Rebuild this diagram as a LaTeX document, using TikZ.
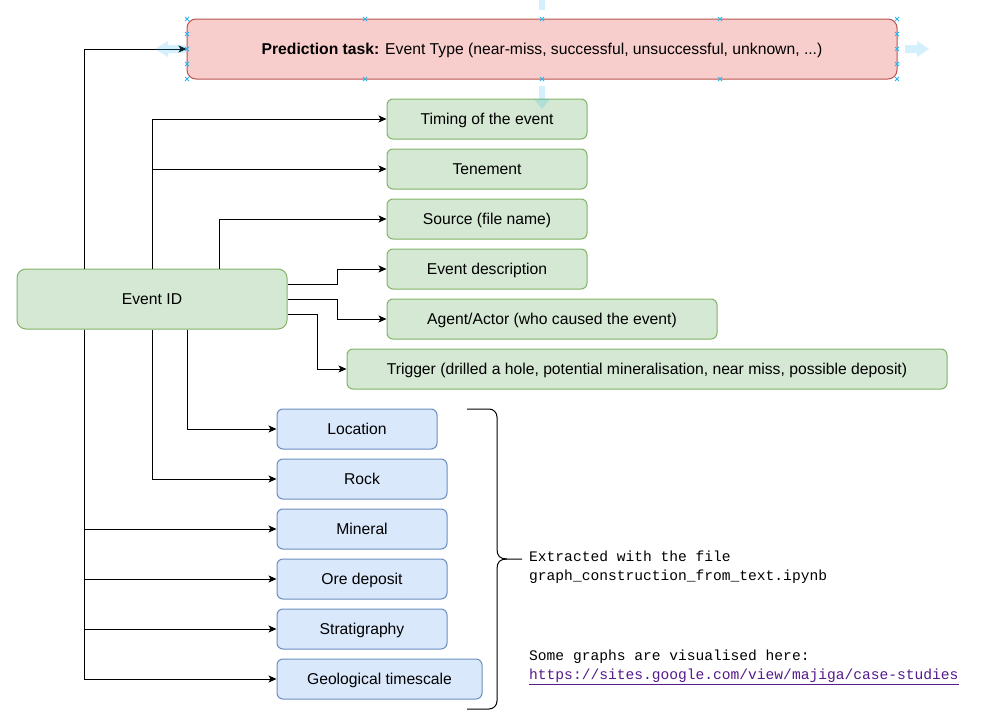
\documentclass[tikz,border=0pt]{standalone}
\usepackage{fontspec}
\setmainfont{Liberation Sans}
\newfontfamily\monofont{Liberation Mono}
\usetikzlibrary{arrows.meta}
\definecolor{gfill}{HTML}{D5E8D4}
\definecolor{gline}{HTML}{82B366}
\definecolor{bfill}{HTML}{DAE8FC}
\definecolor{bline}{HTML}{6C8EBF}
\definecolor{pfill}{HTML}{F8CECC}
\definecolor{pline}{HTML}{B85450}
\definecolor{handle}{HTML}{29B6F2}
\definecolor{linkc}{HTML}{551A8B}
\begin{document}
\begin{tikzpicture}[x=1pt,y=-1pt,
  base/.style={draw, line width=1pt, inner sep=0pt, text height=13.5pt, text depth=2.5pt, font=\fontsize{15.7}{18}\selectfont, text=black},
  gbox/.style={base, fill=gfill, draw=gline, rounded corners=6pt, minimum height=40pt},
  bbox/.style={base, fill=bfill, draw=bline, rounded corners=6pt, minimum height=40pt},
  pbox/.style={base, fill=pfill, draw=pline, rounded corners=9pt, minimum height=60pt},
  conn/.style={line width=1pt, -{Stealth[length=8pt,width=7pt,inset=2pt]}},
  mono/.style={anchor=west, align=left, inner sep=0pt, font=\monofont\fontsize{14.6}{19}\selectfont},
  ghost/.style={fill=handle, fill opacity=0.2, draw=none},
  hmark/.style={draw=handle, line width=0.9pt}]
\useasboundingbox (0,0) rectangle (983,720);
\fill[white] (0,0) rectangle (983,720);

% nodes
\node[pbox, minimum width=710pt] (pred) at (542,49) {\textbf{Prediction task:} Event Type (near-miss, successful, unsuccessful, unknown, ...)};
\node[gbox, rounded corners=9pt, minimum width=270pt, minimum height=60pt] (eid) at (152,299) {Event ID};
\node[gbox, minimum width=200pt] (timing) at (487,119) {Timing of the event};
\node[gbox, minimum width=200pt] (ten) at (487,169) {Tenement};
\node[gbox, minimum width=200pt] (src) at (487,219) {Source (file name)};
\node[gbox, minimum width=200pt] (edesc) at (487,269) {Event description};
\node[gbox, minimum width=330pt] (agent) at (552,319) {Agent/Actor (who caused the event)};
\node[gbox, minimum width=600pt] (trig) at (647,369) {Trigger (drilled a hole, potential mineralisation, near miss, possible deposit)};
\node[bbox, minimum width=160pt] (loc) at (357,429) {Location};
\node[bbox, minimum width=170pt] (rock) at (362,479) {Rock};
\node[bbox, minimum width=170pt] (mineral) at (362,529) {Mineral};
\node[bbox, minimum width=170pt] (ore) at (362,579) {Ore deposit};
\node[bbox, minimum width=170pt] (strat) at (362,629) {Stratigraphy};
\node[bbox, minimum width=205pt] (geo) at (379.5,679) {Geological timescale};

% connectors
\draw[conn] ([xshift=68pt]eid.north west) |- (pred.west);
\draw[conn] (eid.north) |- (timing.west);
\draw[conn] (eid.north) |- (ten.west);
\draw[conn] ([xshift=67pt]eid.north) |- (src.west);
\draw[conn] ([yshift=15pt]eid.east) -- ++(50,0) |- (edesc.west);
\draw[conn] (eid.east) -- ++(50,0) |- (agent.west);
\draw[conn] ([yshift=-15pt]eid.east) -- ++(30,0) |- (trig.west);
\draw[conn] ([xshift=35pt]eid.south) |- (loc.west);
\draw[conn] (eid.south) |- (rock.west);
\draw[conn] ([xshift=68pt]eid.south west) |- (mineral.west);
\draw[conn] ([xshift=68pt]eid.south west) |- (ore.west);
\draw[conn] ([xshift=68pt]eid.south west) |- (strat.west);
\draw[conn] ([xshift=68pt]eid.south west) |- (geo.west);

% brace
\draw[line width=1pt] (467,409) -- (489,409) arc[start angle=-90, end angle=0, radius=8] -- (497,549)
  .. controls (497,556) and (500,559) .. (507,559) -- (522,559);
\draw[line width=1pt] (507,559) .. controls (500,559) and (497,562) .. (497,569)
  -- (497,701) arc[start angle=0, end angle=90, radius=8] -- (467,709);

% annotations
\node[mono] (ext) at (529,567.5) {Extracted with the file\\graph\_construction\_from\_text.ipynb};
\node[mono, text=black] (vis) at (529,667.5) {Some graphs are visualised here:\\\textcolor{linkc}{\underline{https://sites.google.com/view/majiga/case-studies}}};

% editor overlay (hover arrows and selection handles)
\fill[ghost] (539,0) rectangle (545,10);
\fill[ghost] (539,86) -- (545,86) -- (545,99) -- (550,99) -- (542,109) -- (534,99) -- (539,99) -- cycle;
\fill[ghost] (185,45) -- (168,45) -- (168,41) -- (155,49) -- (168,57) -- (168,53) -- (185,53) -- cycle;
\fill[ghost] (905,45) -- (917,45) -- (917,41) -- (929,49) -- (917,57) -- (917,53) -- (905,53) -- cycle;
\foreach \p in {(187,19),(365,19),(542,19),(720,19),(897,19),
                (187,34),(187,49),(187,64),(897,34),(897,49),(897,64),
                (187,79),(365,79),(542,79),(720,79),(897,79)}
  \draw[hmark] \p ++(-2,-2) -- ++(4,4) \p ++(-2,2) -- ++(4,-4);
\end{tikzpicture}
\end{document}
